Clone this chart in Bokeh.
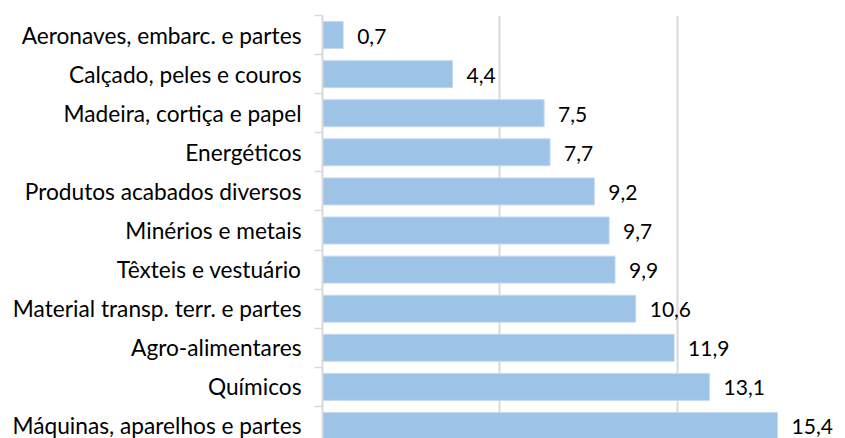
from bokeh.plotting import figure
from bokeh.models import ColumnDataSource, FixedTicker, Range1d
from bokeh.core.properties import value
from bokeh.embed import file_html
from bokeh.resources import INLINE

categories = [
    "Aeronaves, embarc. e partes",
    "Calçado, peles e couros",
    "Madeira, cortiça e papel",
    "Energéticos",
    "Produtos acabados diversos",
    "Minérios e metais",
    "Têxteis e vestuário",
    "Material transp. terr. e partes",
    "Agro-alimentares",
    "Químicos",
    "Máquinas, aparelhos e partes",
]
values = [0.7, 4.4, 7.5, 7.7, 9.2, 9.7, 9.9, 10.6, 11.9, 13.1, 15.4]
grid_ticks = [6, 12]

n = len(categories)
ypos = [n - i - 0.5 for i in range(n)]
labels = [f"{v:.1f}".replace(".", ",") for v in values]

src = ColumnDataSource(dict(y=ypos, v=values, lab=labels, cat=categories))

FONT = "Lato"

p = figure(width=845, height=438, output_backend="svg", toolbar_location=None,
           x_range=Range1d(0, 17.7), y_range=Range1d(0.18, 11),
           x_axis_location=None, min_border_left=322, min_border_right=0,
           min_border_top=15, min_border_bottom=0)
p.outline_line_color = None
p.background_fill_color = "white"
p.border_fill_color = "white"

p.hbar(y="y", right="v", left=0, height=0.69, source=src,
       fill_color="#9dc3e6", line_color="#c3daf0", line_width=1)

p.text(x="v", y="y", text="lab", source=src, x_offset=14, y_offset=1,
       text_font=value(FONT), text_font_size="21px", text_color="#000000",
       text_baseline="middle", text_align="left")

p.xgrid.ticker = FixedTicker(ticks=grid_ticks)
p.xgrid.grid_line_color = "#d9d9d9"
p.xgrid.grid_line_width = 2
p.ygrid.visible = False

ax = p.yaxis[0]
ax.ticker = FixedTicker(ticks=ypos, minor_ticks=list(range(0, n + 1)))
ax.major_label_overrides = {y: c for y, c in zip(ypos, categories)}
ax.major_tick_out = 0
ax.major_tick_in = 0
ax.minor_tick_out = 8
ax.minor_tick_in = 0
ax.minor_tick_line_color = "#d9d9d9"
ax.minor_tick_line_width = 1.5
ax.axis_line_color = "#d9d9d9"
ax.axis_line_width = 2
ax.major_label_standoff = 13
ax.major_label_text_font = FONT
ax.major_label_text_font_size = "22.7px"
ax.major_label_text_color = "#000000"

open("out.html", "w").write(file_html(p, INLINE))
